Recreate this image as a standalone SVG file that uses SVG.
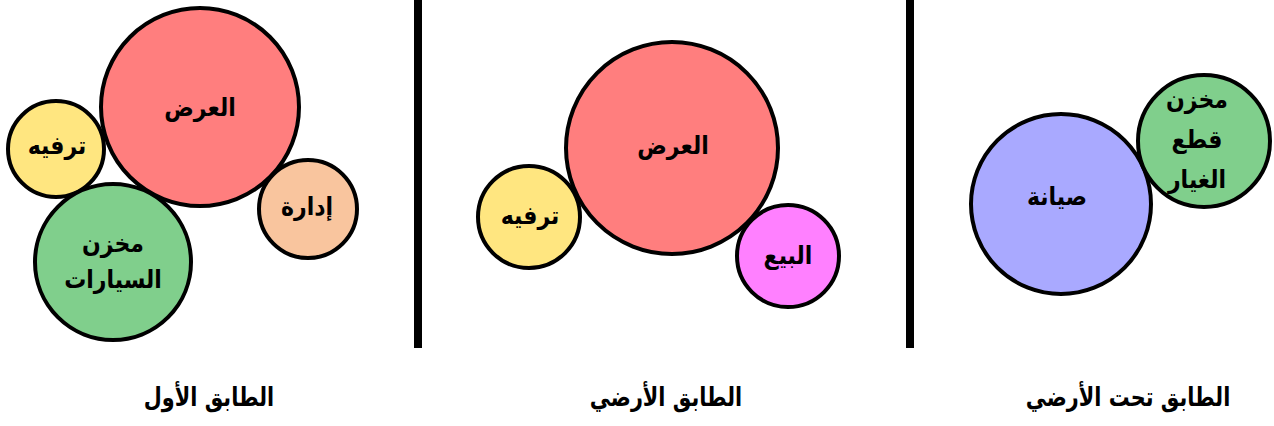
<svg xmlns="http://www.w3.org/2000/svg" width="1274" height="426" viewBox="0 0 1274 426">
<style>
.c{stroke:#000;stroke-width:4}
.t{font-family:"DejaVu Sans","Liberation Sans",sans-serif;font-weight:bold;font-size:25px;text-anchor:middle;dominant-baseline:central;fill:#000;direction:rtl}
.L{font-family:"DejaVu Sans","Liberation Sans",sans-serif;font-weight:bold;font-size:26px;text-anchor:middle;fill:#000;direction:rtl}
.red{fill:#FF7E7E}.yel{fill:#FFE680}.grn{fill:#80CF8C}.pch{fill:#F9C59E}.mag{fill:#FF80FF}.blu{fill:#A9A9FF}
</style>
<rect width="1274" height="426" fill="#fff"/>
<g id="dividers">
<rect x="414" y="0" width="8" height="348" fill="#000"/>
<rect x="906" y="0" width="8" height="348" fill="#000"/>
</g>
<g id="f1-display"><circle class="c red" cx="200" cy="107" r="99"/><text class="t" transform="translate(200,108) scale(0.88,1)">العرض</text></g>
<g id="f1-leisure"><circle class="c yel" cx="56" cy="149" r="48"/><text class="t" transform="translate(57,146) scale(0.88,1)">ترفيه</text></g>
<g id="f1-carstore"><circle class="c grn" cx="113" cy="262" r="78"/><text class="t" transform="translate(113,244) scale(0.88,1)">مخزن</text><text class="t" transform="translate(113,280) scale(0.88,1)">السيارات</text></g>
<g id="f1-admin"><circle class="c pch" cx="308" cy="209" r="49"/><text class="t" transform="translate(307,207) scale(0.88,1)">إدارة</text></g>
<g id="f0-display"><circle class="c red" cx="672" cy="148" r="106"/><text class="t" transform="translate(673,146) scale(0.88,1)">العرض</text></g>
<g id="f0-leisure"><circle class="c yel" cx="529" cy="217" r="51"/><text class="t" transform="translate(530,216) scale(0.88,1)">ترفيه</text></g>
<g id="f0-sales"><circle class="c mag" cx="788" cy="256" r="51"/><text class="t" transform="translate(788,256) scale(0.88,1)">البيع</text></g>
<g id="b-maint"><circle class="c blu" cx="1061" cy="204" r="90"/><text class="t" transform="translate(1057,197) scale(0.88,1)">صيانة</text></g>
<g id="b-parts"><circle class="c grn" cx="1204" cy="141" r="66"/><text class="t" transform="translate(1197,100) scale(0.88,1)">مخزن</text><text class="t" transform="translate(1197,140) scale(0.88,1)">قطع</text><text class="t" transform="translate(1197,180) scale(0.88,1)">الغيار</text></g>
<g id="labels">
<text class="L" transform="translate(209,406) scale(0.8,1)">الطابق الأول</text>
<text class="L" transform="translate(666,406) scale(0.8,1)">الطابق الأرضي</text>
<text class="L" transform="translate(1128,406) scale(0.8,1)">الطابق تحت الأرضي</text>
</g>
</svg>
